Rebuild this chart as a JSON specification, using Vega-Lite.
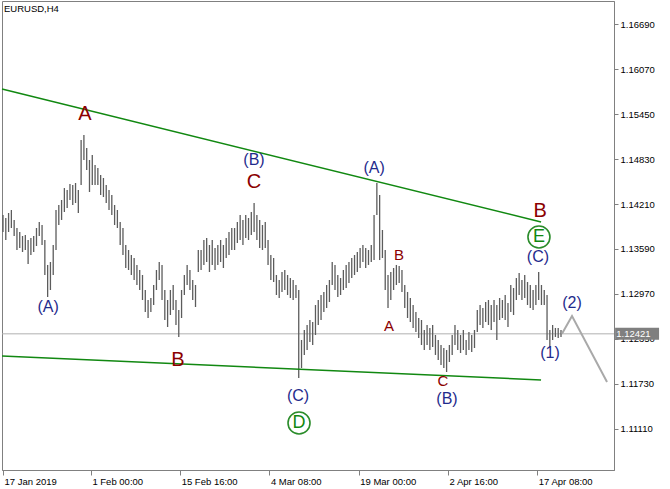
{
  "$schema": "https://vega.github.io/schema/vega-lite/v6.json",
  "width": 612,
  "height": 469,
  "autosize": {"type": "none"},
  "padding": {"left": 2, "top": 1, "right": 56, "bottom": 19},
  "background": "white",
  "title": {"text": "EURUSD,H4", "anchor": "start", "orient": "top", "frame": "group", "offset": -12, "dx": 2, "font": "Liberation Sans", "fontSize": 9.5, "fontWeight": "normal", "color": "#000000"},
  "config": {"view": {"stroke": "#808080", "strokeWidth": 1}},
  "datasets": {
    "bars": [
      {"i":0,"p":1.14058,"l":1.13824},{"i":2,"p":1.14017,"l":1.13714},{"i":4,"p":1.14086,"l":1.13824},{"i":6,"p":1.14127,"l":1.13879},{"i":8,"p":1.1399,"l":1.13769},
      {"i":10,"p":1.13879,"l":1.13576},{"i":12,"p":1.13824,"l":1.13604},{"i":14,"p":1.13769,"l":1.13549},{"i":16,"p":1.13783,"l":1.13576},{"i":18,"p":1.13714,"l":1.13383},
      {"i":20,"p":1.13742,"l":1.13507},{"i":22,"p":1.13769,"l":1.13549},{"i":24,"p":1.13879,"l":1.13631},{"i":26,"p":1.13962,"l":1.13769},{"i":28,"p":1.13921,"l":1.13645},
      {"i":30,"p":1.13714,"l":1.13232},{"i":32,"p":1.1337,"l":1.12929},{"i":34,"p":1.13411,"l":1.13025},{"i":36,"p":1.13645,"l":1.13232},{"i":38,"p":1.14127,"l":1.13576},
      {"i":40,"p":1.14196,"l":1.13921},{"i":42,"p":1.14265,"l":1.1399},{"i":44,"p":1.1443,"l":1.141},{"i":46,"p":1.14403,"l":1.14155},{"i":48,"p":1.14486,"l":1.14265},
      {"i":50,"p":1.14472,"l":1.14196},{"i":52,"p":1.14499,"l":1.14224},{"i":54,"p":1.14403,"l":1.14086},{"i":56,"p":1.15092,"l":1.14472},{"i":58,"p":1.15161,"l":1.14816},
      {"i":60,"p":1.14982,"l":1.14678},{"i":62,"p":1.14816,"l":1.14375},{"i":64,"p":1.14885,"l":1.14472},{"i":66,"p":1.14747,"l":1.14472},{"i":68,"p":1.14706,"l":1.14472},
      {"i":70,"p":1.1461,"l":1.14334},{"i":72,"p":1.14568,"l":1.14306},{"i":74,"p":1.14472,"l":1.14224},{"i":76,"p":1.14403,"l":1.14127},{"i":78,"p":1.14334,"l":1.14058},
      {"i":80,"p":1.14196,"l":1.13921},{"i":82,"p":1.14127,"l":1.13879},{"i":84,"p":1.13962,"l":1.13645},{"i":86,"p":1.13879,"l":1.13507},{"i":88,"p":1.13645,"l":1.13328},
      {"i":90,"p":1.13576,"l":1.13301},{"i":92,"p":1.13507,"l":1.13232},{"i":94,"p":1.13466,"l":1.13163},{"i":96,"p":1.1337,"l":1.13094},{"i":98,"p":1.13301,"l":1.13025},
      {"i":100,"p":1.13232,"l":1.12887},{"i":102,"p":1.13025,"l":1.12722},{"i":104,"p":1.12887,"l":1.12639},{"i":106,"p":1.12915,"l":1.12722},{"i":108,"p":1.13094,"l":1.12818},
      {"i":110,"p":1.13301,"l":1.13025},{"i":112,"p":1.13411,"l":1.13163},{"i":114,"p":1.1337,"l":1.12887},{"i":116,"p":1.13025,"l":1.12612},{"i":118,"p":1.12887,"l":1.12515},
      {"i":120,"p":1.13025,"l":1.12681},{"i":122,"p":1.13094,"l":1.1275},{"i":124,"p":1.12887,"l":1.12543},{"i":126,"p":1.1275,"l":1.12378},{"i":128,"p":1.13025,"l":1.12639},
      {"i":130,"p":1.13232,"l":1.12956},{"i":132,"p":1.1337,"l":1.13094},{"i":134,"p":1.13301,"l":1.13025},{"i":136,"p":1.13163,"l":1.12887},{"i":138,"p":1.13094,"l":1.12791},
      {"i":140,"p":1.13576,"l":1.13273},{"i":142,"p":1.13576,"l":1.13301},{"i":144,"p":1.13714,"l":1.1337},{"i":146,"p":1.13742,"l":1.13411},{"i":148,"p":1.13645,"l":1.13273},
      {"i":150,"p":1.13714,"l":1.1337},{"i":152,"p":1.13604,"l":1.13301},{"i":154,"p":1.13645,"l":1.1337},{"i":156,"p":1.13714,"l":1.13411},{"i":158,"p":1.13645,"l":1.13328},
      {"i":160,"p":1.13742,"l":1.13466},{"i":162,"p":1.13824,"l":1.13507},{"i":164,"p":1.13879,"l":1.13576},{"i":166,"p":1.13879,"l":1.13576},{"i":168,"p":1.13962,"l":1.13673},
      {"i":170,"p":1.14058,"l":1.13714},{"i":172,"p":1.1399,"l":1.13645},{"i":174,"p":1.14058,"l":1.13742},{"i":176,"p":1.14017,"l":1.13714},{"i":178,"p":1.141,"l":1.13783},
      {"i":180,"p":1.14224,"l":1.13824},{"i":182,"p":1.14058,"l":1.13714},{"i":184,"p":1.1399,"l":1.13604},{"i":186,"p":1.13921,"l":1.13576},{"i":188,"p":1.13962,"l":1.13604},
      {"i":190,"p":1.13714,"l":1.1337},{"i":192,"p":1.13507,"l":1.13163},{"i":194,"p":1.13466,"l":1.13135},{"i":196,"p":1.13232,"l":1.12956},{"i":198,"p":1.13163,"l":1.12915},
      {"i":200,"p":1.13273,"l":1.12998},{"i":202,"p":1.13301,"l":1.13025},{"i":204,"p":1.13232,"l":1.12956},{"i":206,"p":1.1319,"l":1.12915},{"i":208,"p":1.13163,"l":1.12887},
      {"i":210,"p":1.13094,"l":1.12915},{"i":212,"p":1.13025,"l":1.11813},{"i":214,"p":1.12336,"l":1.1195},{"i":216,"p":1.12474,"l":1.1213},{"i":218,"p":1.12543,"l":1.12198},
      {"i":220,"p":1.12612,"l":1.12309},{"i":222,"p":1.12584,"l":1.12267},{"i":224,"p":1.12818,"l":1.12405},{"i":226,"p":1.12887,"l":1.12543},{"i":228,"p":1.12956,"l":1.12612},
      {"i":230,"p":1.12998,"l":1.12722},{"i":232,"p":1.13094,"l":1.12777},{"i":234,"p":1.13163,"l":1.1286},{"i":236,"p":1.13411,"l":1.13094},{"i":238,"p":1.1337,"l":1.13025},
      {"i":240,"p":1.13232,"l":1.12929},{"i":242,"p":1.1319,"l":1.12956},{"i":244,"p":1.13301,"l":1.13025},{"i":246,"p":1.1337,"l":1.13053},{"i":248,"p":1.13411,"l":1.13121},
      {"i":250,"p":1.13466,"l":1.1319},{"i":252,"p":1.13507,"l":1.13232},{"i":254,"p":1.13549,"l":1.13273},{"i":256,"p":1.13604,"l":1.13328},{"i":258,"p":1.13645,"l":1.13411},
      {"i":260,"p":1.13604,"l":1.13328},{"i":262,"p":1.13576,"l":1.1337},{"i":264,"p":1.13645,"l":1.13411},{"i":266,"p":1.14058,"l":1.13438},{"i":268,"p":1.14499,"l":1.14058},
      {"i":270,"p":1.14334,"l":1.13438},{"i":272,"p":1.13852,"l":1.13466},{"i":274,"p":1.13576,"l":1.13025},{"i":276,"p":1.13232,"l":1.12777},{"i":278,"p":1.13273,"l":1.12887},
      {"i":280,"p":1.13328,"l":1.13025},{"i":282,"p":1.1337,"l":1.13094},{"i":284,"p":1.13356,"l":1.13121},{"i":286,"p":1.13301,"l":1.12998},{"i":288,"p":1.13094,"l":1.12777},
      {"i":290,"p":1.12998,"l":1.12639},{"i":292,"p":1.12915,"l":1.12584},{"i":294,"p":1.12818,"l":1.12502},{"i":296,"p":1.12722,"l":1.12446},{"i":298,"p":1.12639,"l":1.12364},
      {"i":300,"p":1.12612,"l":1.12267},{"i":302,"p":1.12474,"l":1.12198},{"i":304,"p":1.12543,"l":1.12267},{"i":306,"p":1.12502,"l":1.12198},{"i":308,"p":1.12543,"l":1.1224},
      {"i":310,"p":1.12405,"l":1.1213},{"i":312,"p":1.12336,"l":1.12061},{"i":314,"p":1.12267,"l":1.11992},{"i":316,"p":1.12226,"l":1.1195},{"i":318,"p":1.12198,"l":1.11895},
      {"i":320,"p":1.12267,"l":1.12033},{"i":322,"p":1.12405,"l":1.1213},{"i":324,"p":1.12543,"l":1.12267},{"i":326,"p":1.12474,"l":1.12198},{"i":328,"p":1.12405,"l":1.12157},
      {"i":330,"p":1.12474,"l":1.12198},{"i":332,"p":1.12336,"l":1.1213},{"i":334,"p":1.12446,"l":1.12198},{"i":336,"p":1.12405,"l":1.12171},{"i":338,"p":1.12474,"l":1.12226},
      {"i":340,"p":1.1275,"l":1.12446},{"i":342,"p":1.12818,"l":1.12543},{"i":344,"p":1.12777,"l":1.12502},{"i":346,"p":1.1286,"l":1.12584},{"i":348,"p":1.12887,"l":1.12543},
      {"i":350,"p":1.12818,"l":1.12474},{"i":352,"p":1.12887,"l":1.12584},{"i":354,"p":1.12818,"l":1.12336},{"i":356,"p":1.12915,"l":1.12612},{"i":358,"p":1.12887,"l":1.12639},
      {"i":360,"p":1.12956,"l":1.12612},{"i":362,"p":1.12846,"l":1.12515},{"i":364,"p":1.13094,"l":1.12722},{"i":366,"p":1.13053,"l":1.12681},{"i":368,"p":1.1319,"l":1.12887},
      {"i":370,"p":1.13259,"l":1.12956},{"i":372,"p":1.13163,"l":1.12887},{"i":374,"p":1.13232,"l":1.12915},{"i":376,"p":1.13135,"l":1.12818},{"i":378,"p":1.13094,"l":1.12777},
      {"i":380,"p":1.13025,"l":1.1275},{"i":382,"p":1.13094,"l":1.12818},{"i":384,"p":1.13273,"l":1.12887},{"i":386,"p":1.13094,"l":1.12818},{"i":388,"p":1.13025,"l":1.12818},
      {"i":390,"p":1.12956,"l":1.12336},{"i":392,"p":1.12474,"l":1.1224},{"i":394,"p":1.12543,"l":1.12336},{"i":396,"p":1.12502,"l":1.12378},{"i":398,"p":1.12502,"l":1.12364},
      {"i":400,"p":1.12474,"l":1.12378}
    ],
    "trend": [
      {"i":-0.717,"p":1.15795,"g":"upper"},{"i":385.7,"p":1.13962,"g":"upper"},
      {"i":-0.717,"p":1.12116,"g":"lower"},{"i":385.7,"p":1.11785,"g":"lower"}
    ],
    "proj": [{"i":400.7,"p":1.12421},{"i":407.9,"p":1.12666},{"i":433,"p":1.11757}],
    "price": [{"i":-0.717,"p":1.12421},{"i":438,"p":1.12421}],
    "tag": [{"i":438.8,"i2":470.3,"p":1.12504,"p2":1.12338}],
    "tagtext": [{"i":439.6,"p":1.12421,"t":"1.12421"}],
    "labels": [
      {"i":58.8,"p":1.1545,"t":"A","k":"major"},
      {"i":179.9,"p":1.14513,"t":"C","k":"major"},
      {"i":125.4,"p":1.12061,"t":"B","k":"major"},
      {"i":385,"p":1.14114,"t":"B","k":"major"},
      {"i":283.9,"p":1.13507,"t":"B","k":"minor"},
      {"i":276.7,"p":1.12529,"t":"A","k":"minor"},
      {"i":315.4,"p":1.11771,"t":"C","k":"minor"},
      {"i":32.3,"p":1.12791,"t":"(A)","k":"inter"},
      {"i":179.9,"p":1.14816,"t":"(B)","k":"inter"},
      {"i":266,"p":1.14706,"t":"(A)","k":"inter"},
      {"i":211.5,"p":1.11565,"t":"(C)","k":"inter"},
      {"i":318.3,"p":1.11523,"t":"(B)","k":"inter"},
      {"i":383.5,"p":1.1348,"t":"(C)","k":"inter"},
      {"i":407.9,"p":1.12846,"t":"(2)","k":"inter"},
      {"i":392.1,"p":1.12157,"t":"(1)","k":"inter"},
      {"i":212.2,"p":1.11193,"t":"D","k":"cycle"},
      {"i":384.2,"p":1.13755,"t":"E","k":"cycle"}
    ]
  },
  "encoding": {
    "x": {
      "field": "i", "type": "quantitative",
      "scale": {"domain": [-0.717, 438], "nice": false, "zero": false},
      "axis": {
        "orient": "bottom", "title": null, "grid": false,
        "values": [0, 63, 127, 191, 255, 319, 383],
        "labelExpr": "datum.value == 0 ? '17 Jan 2019' : datum.value == 63 ? '1 Feb 00:00' : datum.value == 127 ? '15 Feb 16:00' : datum.value == 191 ? '4 Mar 08:00' : datum.value == 255 ? '19 Mar 00:00' : datum.value == 319 ? '2 Apr 16:00' : '17 Apr 08:00'",
        "labelAlign": "left", "labelBaseline": "top", "labelPadding": 1, "labelOffset": 1,
        "labelFlush": false, "labelOverlap": false, "labelBound": false,
        "labelFont": "Liberation Sans", "labelFontSize": 9.5, "labelColor": "#000000",
        "tickSize": 5, "tickColor": "#808080", "domainColor": "#808080"
      }
    },
    "y": {
      "field": "p", "type": "quantitative",
      "scale": {"domain": [1.10545, 1.17007], "nice": false, "zero": false},
      "axis": {
        "orient": "right", "title": null, "grid": false,
        "values": [1.1111, 1.1173, 1.1235, 1.1297, 1.1359, 1.1421, 1.1483, 1.1545, 1.1607, 1.1669],
        "format": ".5f",
        "labelPadding": 2, "labelFlush": false, "labelOverlap": false, "labelBound": false,
        "labelFont": "Liberation Sans", "labelFontSize": 9.5, "labelColor": "#000000",
        "tickSize": 4, "tickColor": "#808080", "domainColor": "#808080"
      }
    }
  },
  "layer": [
    {
      "data": {"name": "price"},
      "mark": {"type": "line", "color": "#b0b0b0", "strokeWidth": 1}
    },
    {
      "data": {"name": "bars"},
      "mark": {"type": "rule", "color": "#5c5c5c", "strokeWidth": 1.3},
      "encoding": {"y2": {"field": "l"}}
    },
    {
      "data": {"name": "trend"},
      "mark": {"type": "line", "color": "#118811", "strokeWidth": 1.5},
      "encoding": {"detail": {"field": "g"}}
    },
    {
      "data": {"name": "proj"},
      "mark": {"type": "line", "color": "#a9a9a9", "strokeWidth": 2}
    },
    {
      "data": {"name": "tag"},
      "mark": {"type": "rect", "color": "#7f7f7f"},
      "encoding": {"x2": {"field": "i2"}, "y2": {"field": "p2"}}
    },
    {
      "data": {"name": "tagtext"},
      "mark": {"type": "text", "align": "left", "baseline": "middle", "color": "#ffffff", "font": "Liberation Sans", "fontSize": 9.5},
      "encoding": {"text": {"field": "t"}}
    },
    {
      "data": {"name": "labels"},
      "transform": [{"filter": "datum.k == 'major'"}],
      "mark": {"type": "text", "align": "center", "baseline": "middle", "color": "#8b0000", "font": "Liberation Sans", "fontSize": 20},
      "encoding": {"text": {"field": "t"}}
    },
    {
      "data": {"name": "labels"},
      "transform": [{"filter": "datum.k == 'minor'"}],
      "mark": {"type": "text", "align": "center", "baseline": "middle", "color": "#8b0000", "font": "Liberation Sans", "fontSize": 15},
      "encoding": {"text": {"field": "t"}}
    },
    {
      "data": {"name": "labels"},
      "transform": [{"filter": "datum.k == 'inter'"}],
      "mark": {"type": "text", "align": "center", "baseline": "middle", "color": "#1f2b8c", "font": "Liberation Sans", "fontSize": 16},
      "encoding": {"text": {"field": "t"}}
    },
    {
      "data": {"name": "labels"},
      "transform": [{"filter": "datum.k == 'cycle'"}],
      "mark": {"type": "point", "shape": "circle", "size": 484, "filled": false, "stroke": "#2a8c2a", "strokeWidth": 1.6, "opacity": 1}
    },
    {
      "data": {"name": "labels"},
      "transform": [{"filter": "datum.k == 'cycle'"}],
      "mark": {"type": "text", "align": "center", "baseline": "middle", "color": "#118811", "font": "Liberation Sans", "fontSize": 18},
      "encoding": {"text": {"field": "t"}}
    }
  ]
}
